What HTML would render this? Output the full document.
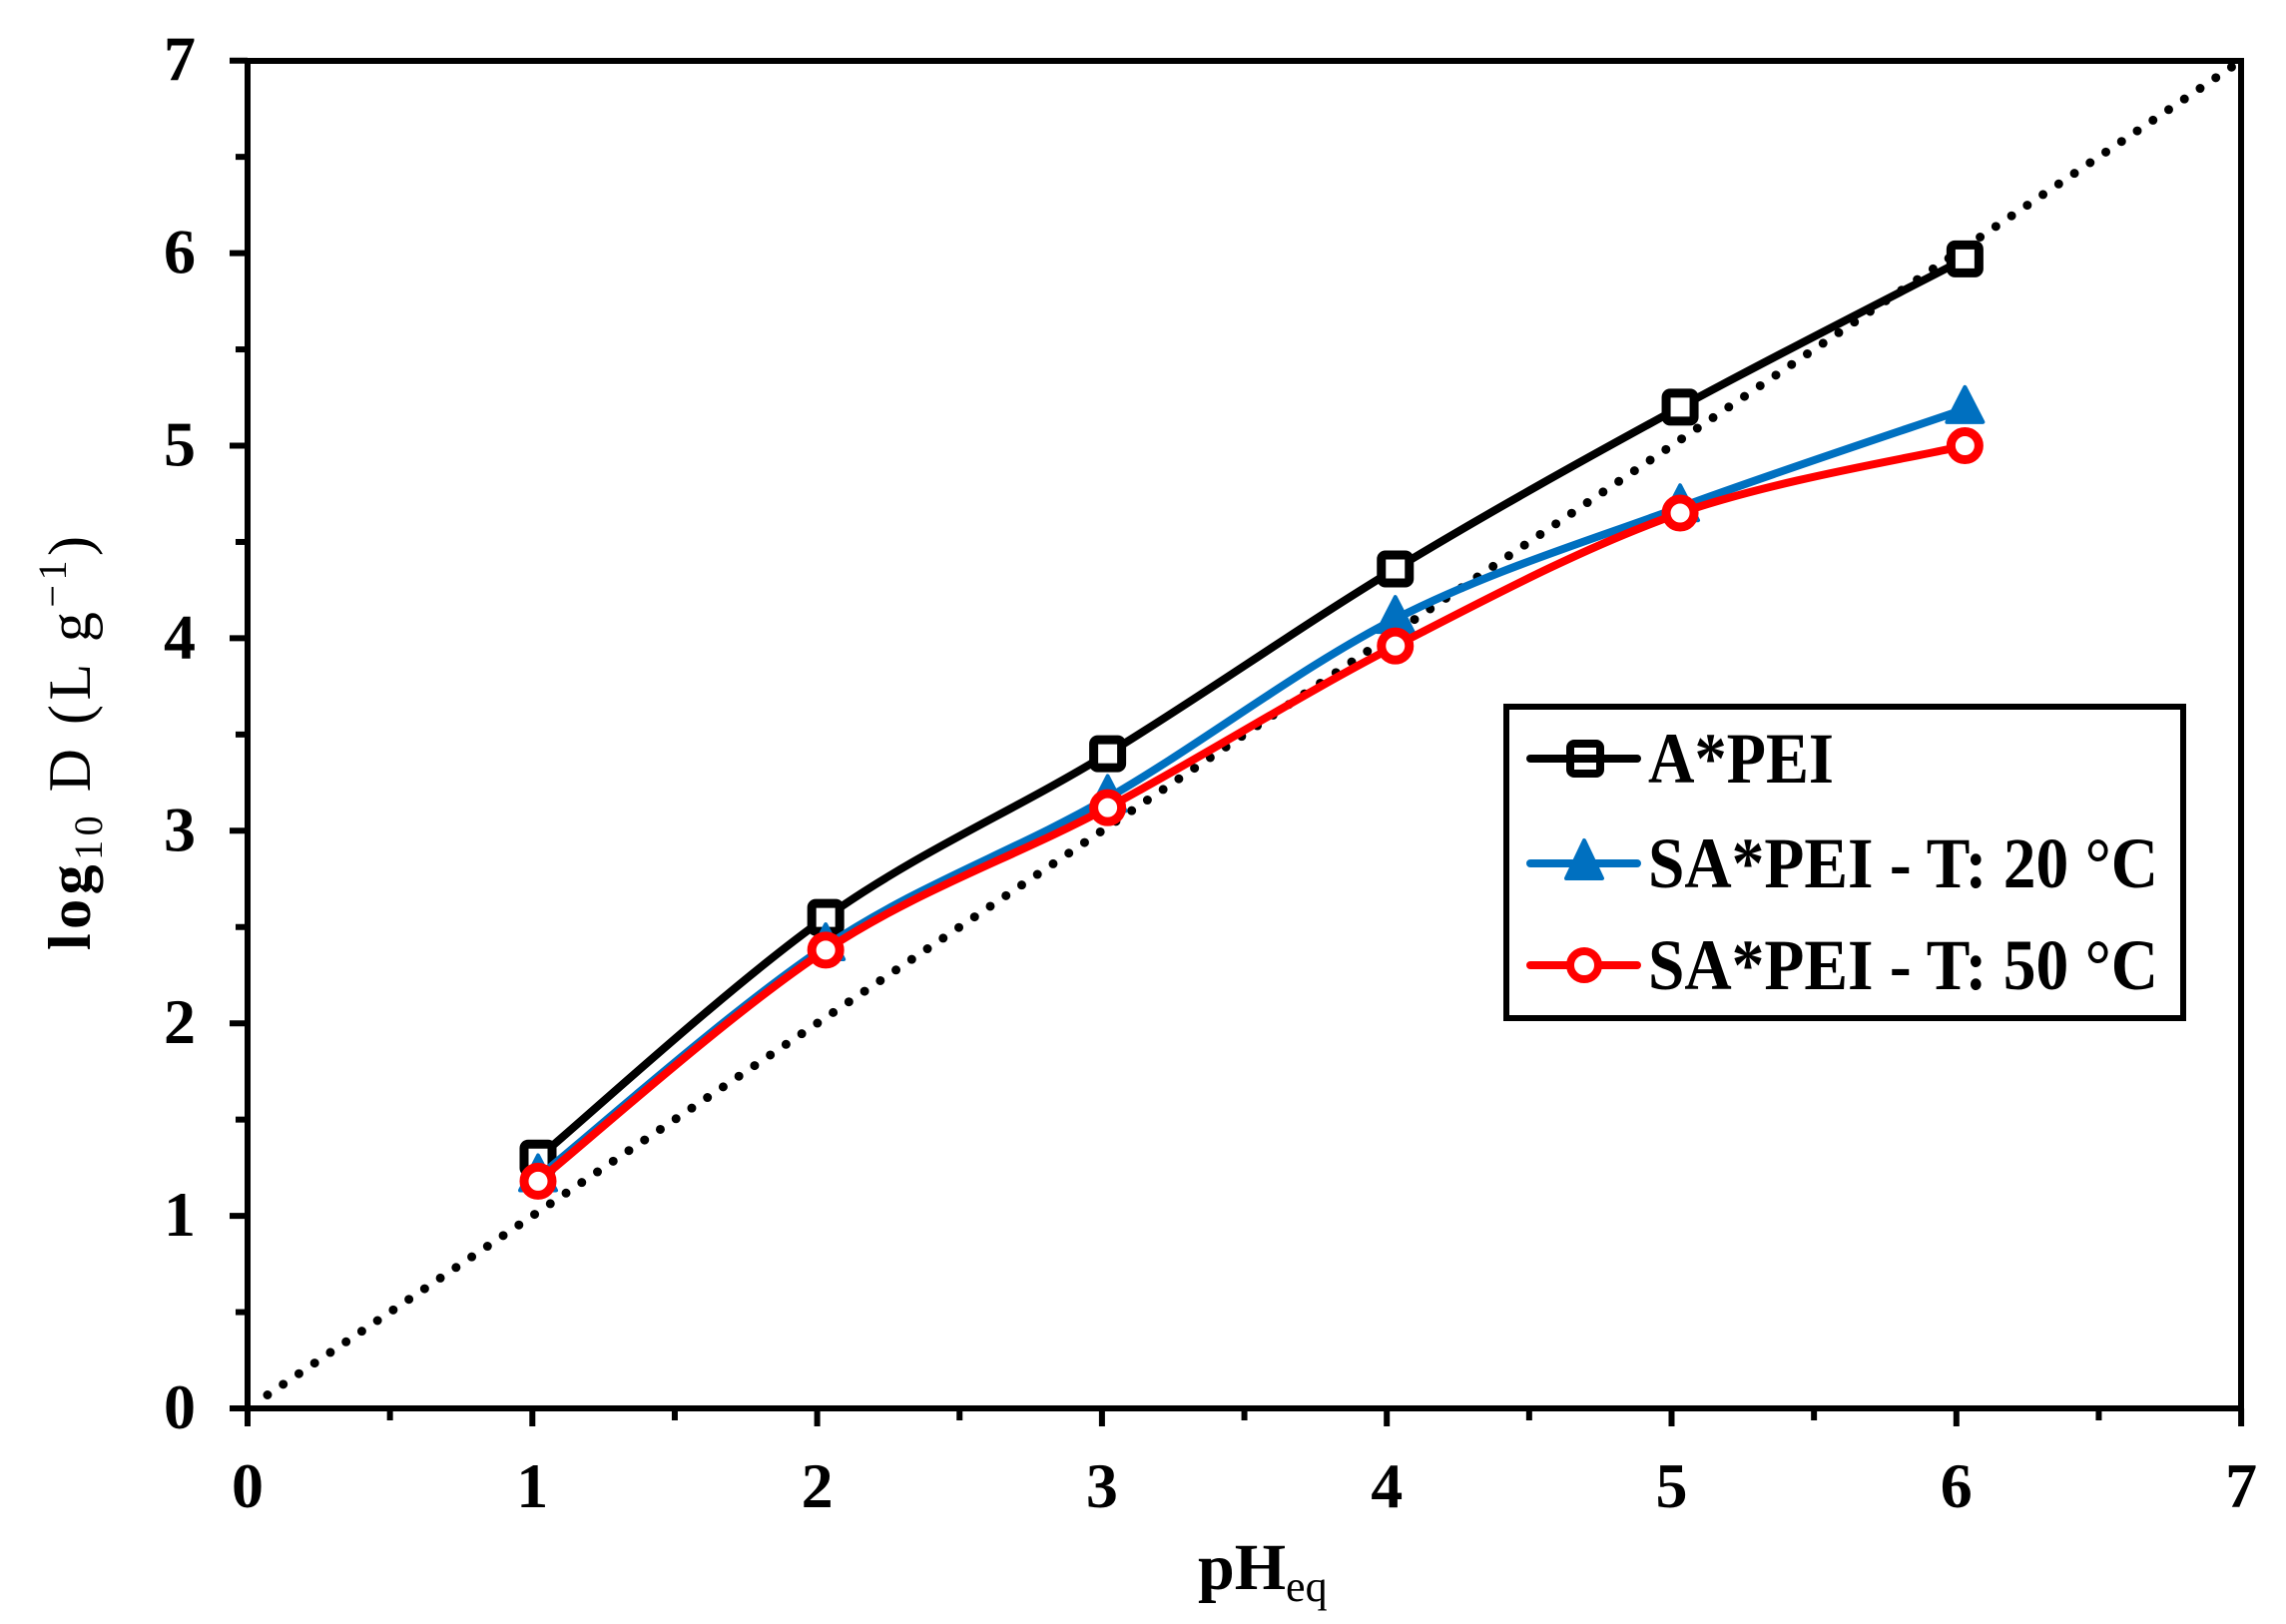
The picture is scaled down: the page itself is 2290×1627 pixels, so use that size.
<!DOCTYPE html>
<html><head><meta charset="utf-8"><style>html,body{margin:0;padding:0;background:#fff}svg{display:block}</style></head>
<body>
<svg id="s" width="2290" height="1627" viewBox="0 0 2290 1627" xmlns="http://www.w3.org/2000/svg" font-family="'Liberation Serif',serif">
<rect width="2290" height="1627" fill="#fff"/>
<g id="plot"></g>
<rect x="248" y="61" width="1997" height="1350" fill="none" stroke="#000" stroke-width="6"/>
<g id="ticks" stroke="#000" stroke-width="6"></g>
<g font-size="64" font-weight="bold" text-anchor="end" id="ylab"></g>
<g font-size="64" font-weight="bold" text-anchor="middle" id="xlab"></g>
<text x="1200" y="1592" font-size="66" font-weight="bold">pH<tspan font-size="44" dy="12" font-weight="normal">eq</tspan></text>
<text transform="translate(90,952) rotate(-90)" font-size="60" textLength="415" lengthAdjust="spacing"><tspan font-weight="bold">log</tspan><tspan font-size="40" dy="12">10</tspan><tspan dy="-12">  D  (L  g</tspan><tspan font-size="40" dy="-24">−1</tspan><tspan dy="24">)</tspan></text>
<rect x="1509" y="708" width="678" height="312" fill="#fff" stroke="#000" stroke-width="6"/>
<line x1="1533" y1="760" x2="1640" y2="760" stroke="#000" stroke-width="8" stroke-linecap="round"/>
<rect x="1573" y="745" width="30" height="30" rx="4" fill="none" stroke="#000" stroke-width="8"/>
<line x1="1533" y1="865" x2="1640" y2="865" stroke="#0070C0" stroke-width="8" stroke-linecap="round"/>
<polygon points="1587,842 1605,880 1569,880" fill="#0070C0" stroke="#0070C0" stroke-width="4" stroke-linejoin="round"/>
<line x1="1533" y1="967" x2="1640" y2="967" stroke="#f00" stroke-width="8" stroke-linecap="round"/>
<circle cx="1587" cy="967" r="14" fill="#fff" stroke="#f00" stroke-width="8"/>
<g font-size="72" font-weight="bold">
<text x="1651" y="784" textLength="186" lengthAdjust="spacingAndGlyphs">A*PEI</text>
<text x="1651" y="889" textLength="511" lengthAdjust="spacingAndGlyphs">SA*PEI - T: 20 °C</text>
<text x="1651" y="991" textLength="511" lengthAdjust="spacingAndGlyphs">SA*PEI - T: 50 °C</text>
</g>
</svg>
<script>
const NS="http://www.w3.org/2000/svg";
const X=v=>248+v*285.3, Y=v=>1411-v*192.9;
function el(p,t,a){const e=document.createElementNS(NS,t);for(const k in a)e.setAttribute(k,a[k]);p.appendChild(e);return e;}
const tk=document.getElementById('ticks'),yl=document.getElementById('ylab'),xl=document.getElementById('xlab'),pl=document.getElementById('plot');
for(let i=0;i<=14;i++){const v=i/2;
 el(tk,'line',{x1:248,x2:i%2?236:230,y1:Y(v),y2:Y(v)});
 el(tk,'line',{y1:1411,y2:i%2?1423:1429,x1:X(v),x2:X(v)});
 if(i%2==0){const t=el(yl,'text',{x:196,y:Y(v)+20});t.textContent=v;
  const u=el(xl,'text',{x:X(v),y:1510});u.textContent=v;}}
el(pl,'line',{x1:X(0.07),y1:Y(0.07),x2:X(7),y2:Y(7),stroke:'#000','stroke-width':9,'stroke-dasharray':'0 19','stroke-linecap':'round'});
const xs=[1.02,2.03,3.02,4.03,5.03,6.03];
const S=[{c:'#000',y:[1.3,2.55,3.4,4.36,5.2,5.97],m:'sq'},{c:'#0070C0',y:[1.2,2.4,3.17,4.1,4.68,5.19],m:'tri'},{c:'#f00',y:[1.18,2.38,3.12,3.96,4.65,5.0],m:'ci'}];
function cr(P){let d=`M${P[0][0]},${P[0][1]}`;for(let i=0;i<P.length-1;i++){const p0=P[Math.max(0,i-1)],p1=P[i],p2=P[i+1],p3=P[Math.min(P.length-1,i+2)];const t=1/6;d+=` C${p1[0]+(p2[0]-p0[0])*t},${p1[1]+(p2[1]-p0[1])*t} ${p2[0]-(p3[0]-p1[0])*t},${p2[1]-(p3[1]-p1[1])*t} ${p2[0]},${p2[1]}`;}return d;}
for(const s of S){const P=xs.map((x,i)=>[X(x),Y(s.y[i])]);
 el(pl,'path',{d:cr(P),fill:'none',stroke:s.c,'stroke-width':8,'stroke-linejoin':'round'});
 for(const [x,y] of P){
  if(s.m=='sq')el(pl,'rect',{x:x-14,y:y-14,width:28,height:28,rx:4,fill:'#fff',stroke:'#000','stroke-width':9});
  else if(s.m=='tri')el(pl,'polygon',{points:`${x},${y-22} ${x+18},${y+13} ${x-18},${y+13}`,fill:s.c,stroke:s.c,'stroke-width':4,'stroke-linejoin':'round'});
  else el(pl,'circle',{cx:x,cy:y,r:14,fill:'#fff',stroke:s.c,'stroke-width':9});}}
</script>
</body></html>
